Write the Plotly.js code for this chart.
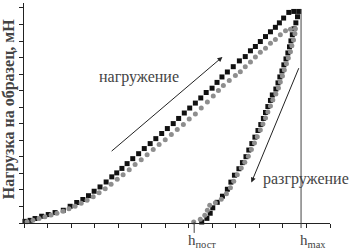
<!DOCTYPE html>
<html>
<head>
<meta charset="utf-8">
<script src="https://cdn.plot.ly/plotly-3.0.1.min.js"></script>
<style>html,body{margin:0;padding:0;background:#fff;}#chart{width:354px;height:250px;}</style>
</head>
<body>
<div id="chart"></div>
<script>
// Loading curve, black squares (depth, load) in axis tick units
const loadBlackX = [0.04,0.26,0.47,0.75,1.03,1.32,1.67,1.96,2.24,2.50,2.74,2.98,3.23,3.49,3.73,3.94,4.16,4.38,4.62,4.87,5.11,5.36,5.60,5.85,6.09,6.34,6.57,6.81,7.04,7.28,7.51,7.74,7.99,8.20,8.41,8.64,8.89,9.15,9.40,9.62,9.83,10.04,10.26,10.47,10.68,10.85,11.03,11.25,11.46,11.67];
const loadBlackY = [0.10,0.16,0.27,0.41,0.51,0.63,0.77,1.01,1.24,1.42,1.65,1.92,2.18,2.48,2.79,3.03,3.30,3.59,3.89,4.19,4.50,4.80,5.10,5.41,5.71,6.01,6.32,6.65,6.95,7.25,7.56,7.89,8.15,8.50,8.83,9.13,9.45,9.80,10.06,10.41,10.67,10.97,11.27,11.56,11.83,12.10,12.39,12.73,12.79,12.79];
// Unloading curve, black squares
const unloadBlackX = [11.62,11.55,11.47,11.40,11.34,11.28,11.21,11.13,11.04,10.96,10.87,10.79,10.70,10.55,10.47,10.36,10.26,10.17,10.06,9.94,9.81,9.68,9.55,9.43,9.28,9.13,8.94,8.79,8.64,8.43,8.21,8.02,7.91,7.77,7.55];
const unloadBlackY = [12.47,12.10,11.74,11.38,11.01,10.65,10.28,9.92,9.56,9.19,8.83,8.47,8.10,7.74,7.41,7.04,6.68,6.32,5.95,5.59,5.19,4.80,4.41,4.01,3.65,3.28,2.89,2.47,2.04,1.62,1.25,0.92,0.59,0.28,0.06];
// Loading curve, gray circles
const loadGrayX = [0.13,0.38,0.64,0.89,1.15,1.40,1.66,1.91,2.17,2.43,2.68,2.94,3.19,3.45,3.70,3.96,4.21,4.47,4.72,4.98,5.23,5.49,5.74,6.00,6.26,6.51,6.77,7.02,7.28,7.53,7.79,8.04,8.26,8.47,8.72,8.98,9.19,9.40,9.62,9.83,10.04,10.26,10.47,10.68,10.89,11.11,11.32,11.53];
const loadGrayY = [0.07,0.16,0.27,0.38,0.48,0.59,0.71,0.86,1.01,1.19,1.38,1.59,1.83,2.07,2.35,2.65,2.92,3.22,3.53,3.83,4.13,4.44,4.74,5.04,5.35,5.65,5.95,6.28,6.59,6.95,7.32,7.68,8.01,8.32,8.62,8.92,9.15,9.44,9.74,10.04,10.32,10.56,10.86,11.10,11.38,11.62,11.72,11.74];
// Unloading curve, gray circles
const unloadGrayX = [11.51,11.45,11.38,11.32,11.23,11.15,11.06,10.98,10.89,10.81,10.70,10.57,10.47,10.36,10.26,10.15,10.04,9.91,9.79,9.66,9.53,9.38,9.23,9.06,8.91,8.77,8.60,8.38,8.13,7.89,7.79,7.68,7.49,7.21];
const unloadGrayY = [11.44,11.07,10.71,10.35,9.98,9.62,9.25,8.89,8.53,8.16,7.80,7.44,7.07,6.71,6.35,5.98,5.62,5.22,4.83,4.44,4.04,3.68,3.32,2.92,2.53,2.13,1.77,1.44,1.22,1.07,0.77,0.47,0.22,0.06];
// Marked depths on the x axis
const hResidual = 7.23;
const hMax = 11.77;
// Text labels
const yTitle = 'Нагрузка на образец, мН';
const loadLabel = 'нагружение';
const unloadLabel = 'разгружение';
const hResLabel = 'h<sub>пост</sub>';
const hMaxLabel = 'h<sub>max</sub>';

const blackMarker = {symbol: 'square', size: 5, color: '#111111'};
const grayMarker = {symbol: 'circle', size: 5, color: '#8e8e8e'};

const traces = [
  {x: loadBlackX, y: loadBlackY, mode: 'markers', marker: blackMarker, cliponaxis: false},
  {x: unloadBlackX, y: unloadBlackY, mode: 'markers', marker: blackMarker, cliponaxis: false},
  {x: loadGrayX, y: loadGrayY, mode: 'markers', marker: grayMarker, cliponaxis: false},
  {x: unloadGrayX, y: unloadGrayY, mode: 'markers', marker: grayMarker, cliponaxis: false}
];

const axisCommon = {
  showline: true, linecolor: '#222', linewidth: 1,
  ticks: 'outside', ticklen: 4, tickwidth: 1, tickcolor: '#222',
  dtick: 1, tick0: 0, showticklabels: false,
  showgrid: false, zeroline: false, fixedrange: true
};

const layout = {
  width: 354, height: 250,
  margin: {l: 24, r: 24, t: 3, b: 27, pad: 0},
  paper_bgcolor: '#fff', plot_bgcolor: '#fff',
  showlegend: false,
  xaxis: Object.assign({range: [0, 13]}, axisCommon),
  yaxis: Object.assign({range: [0, 13.3]}, axisCommon),
  shapes: [
    {type: 'line', xref: 'x', yref: 'paper', x0: hMax, x1: hMax, y0: -0.023, y1: 0.973,
     line: {color: '#444', width: 1}},
    {type: 'line', xref: 'x', yref: 'paper', x0: hResidual, x1: hResidual, y0: -0.045, y1: 0.005,
     line: {color: '#444', width: 1}}
  ],
  annotations: [
    {text: '<b>' + yTitle + '</b>', xref: 'paper', yref: 'paper', x: -0.05, y: 0.52, textangle: -90,
     showarrow: false, xanchor: 'center', yanchor: 'middle', font: {family: 'Liberation Serif', size: 16}},
    {text: loadLabel, xref: 'x', yref: 'y', x: 3.1, y: 8.85, xanchor: 'left', yanchor: 'middle',
     showarrow: false, font: {family: 'Liberation Serif', size: 16}},
    {text: unloadLabel, xref: 'x', yref: 'y', x: 10.07, y: 2.64, xanchor: 'left', yanchor: 'middle',
     showarrow: false, font: {family: 'Liberation Serif', size: 16}},
    {text: hResLabel, xref: 'x', yref: 'y', x: 6.89, y: 0, xanchor: 'left', yanchor: 'top', yshift: -7,
     showarrow: false, font: {family: 'Liberation Serif', size: 15}},
    {text: hMaxLabel, xref: 'x', yref: 'y', x: 11.66, y: 0, xanchor: 'left', yanchor: 'top', yshift: -7,
     showarrow: false, font: {family: 'Liberation Serif', size: 15}},
    {text: '', xref: 'x', yref: 'y', axref: 'x', ayref: 'y',
     x: 8.43, y: 10.04, ax: 3.66, ay: 4.27,
     showarrow: true, arrowhead: 2, arrowsize: 1, arrowwidth: 1, arrowcolor: '#222'},
    {text: '', xref: 'x', yref: 'y', axref: 'x', ayref: 'y',
     x: 9.66, y: 2.45, ax: 11.70, ay: 9.45,
     showarrow: true, arrowhead: 2, arrowsize: 1, arrowwidth: 1, arrowcolor: '#222'}
  ]
};

Plotly.newPlot('chart', traces, layout, {staticPlot: true});
</script>
</body>
</html>
